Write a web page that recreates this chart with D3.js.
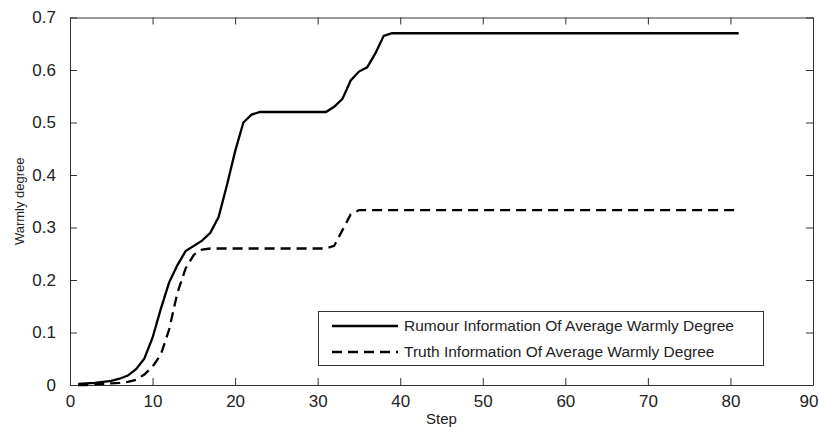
<!DOCTYPE html>
<html>
<head>
<meta charset="utf-8">
<script src="https://cdn.jsdelivr.net/npm/d3@7"></script>
<style>
  body { margin: 0; background: #fff; }
  svg { display: block; font-family: "Liberation Sans", Arial, sans-serif; }
</style>
</head>
<body>
<div id="chart"></div>
<script>
// steps where the curves change (plateaus are flat between listed points)
const rumourSteps = [1, 2, 3, 4, 5, 6, 7, 8, 9, 10, 11, 12, 13, 14, 15, 16, 17, 18, 19, 20, 21, 22, 23, 24, 31, 32, 33, 34, 35, 36, 37, 38, 39, 81]
const rumourValues = [0.002, 0.003, 0.004, 0.006, 0.008, 0.012, 0.018, 0.03, 0.05, 0.09, 0.145, 0.195, 0.228, 0.255, 0.265, 0.275, 0.29, 0.32, 0.38, 0.445, 0.5, 0.515, 0.52, 0.52, 0.52, 0.53, 0.545, 0.58, 0.597, 0.605, 0.632, 0.665, 0.67, 0.67]

const truthSteps = [1, 2, 3, 4, 5, 6, 7, 8, 9, 10, 11, 12, 13, 14, 15, 16, 17, 31, 32, 33, 34, 35, 81]
const truthValues = [0.0, 0.0, 0.001, 0.002, 0.003, 0.004, 0.006, 0.01, 0.02, 0.035, 0.058, 0.105, 0.175, 0.222, 0.248, 0.258, 0.26, 0.26, 0.265, 0.295, 0.325, 0.333, 0.333]

const xTicks = [0, 10, 20, 30, 40, 50, 60, 70, 80, 90]
const yTicks = [0, 0.1, 0.2, 0.3, 0.4, 0.5, 0.6, 0.7]
const seriesNames = ['Rumour Information Of Average Warmly Degree', 'Truth Information Of Average Warmly Degree']

function draw_chart() {
    const width = 819, height = 427
    const margins = {'left': 70, 'right': 6, 'top': 17.5, 'bottom': 42}

    const svg = d3.select('#chart').append('svg')
        .attr('width', width).attr('height', height)

    const x = d3.scaleLinear().domain([0, 90]).range([margins.left, width - margins.right])
    const y = d3.scaleLinear().domain([0, 0.7]).range([height - margins.bottom, margins.top])

    const axisColor = '#333'
    const tickLen = 7

    // bottom / top axes, ticks pointing inward
    svg.append('g').attr('transform', `translate(0,${y(0)})`)
        .call(d3.axisBottom(x).tickValues(xTicks).tickSizeInner(-tickLen).tickSizeOuter(0).tickPadding(10).tickFormat(d3.format('d')))
        .call(g => g.select('.domain').attr('stroke', axisColor))
        .call(g => g.selectAll('.tick line').attr('stroke', axisColor))
        .call(g => g.selectAll('.tick text').attr('font-size', 17).attr('fill', '#222').attr('font-family', '"Liberation Sans", Arial, sans-serif'))
        // last label sits at the window edge; keep it inside
        .call(g => g.selectAll('.tick').filter(d => d === 90).select('text').attr('text-anchor', 'end').attr('x', width - 1 - x(90)))

    svg.append('g').attr('transform', `translate(0,${y(0.7)})`)
        .call(d3.axisTop(x).tickValues(xTicks).tickSizeInner(-tickLen).tickSizeOuter(0).tickFormat(''))
        .call(g => g.select('.domain').attr('stroke', axisColor))
        .call(g => g.selectAll('.tick line').attr('stroke', axisColor))

    // left / right axes
    svg.append('g').attr('transform', `translate(${x(0)},0)`)
        .call(d3.axisLeft(y).tickValues(yTicks).tickSizeInner(-tickLen).tickSizeOuter(0).tickPadding(14).tickFormat(d => d === 0 ? '0' : d3.format('.1f')(d)))
        .call(g => g.select('.domain').attr('stroke', axisColor))
        .call(g => g.selectAll('.tick line').attr('stroke', axisColor))
        .call(g => g.selectAll('.tick text').attr('font-size', 17).attr('fill', '#222').attr('font-family', '"Liberation Sans", Arial, sans-serif'))

    svg.append('g').attr('transform', `translate(${x(90)},0)`)
        .call(d3.axisRight(y).tickValues(yTicks).tickSizeInner(-tickLen).tickSizeOuter(0).tickFormat(''))
        .call(g => g.select('.domain').attr('stroke', axisColor))
        .call(g => g.selectAll('.tick line').attr('stroke', axisColor))

    // axis labels
    svg.append('text').attr('x', (x(0) + x(90)) / 2).attr('y', 424)
        .attr('text-anchor', 'middle').attr('font-size', 15).attr('fill', '#222').text('Step')
    svg.append('text').attr('transform', `translate(24,${(y(0) + y(0.7)) / 2}) rotate(-90)`)
        .attr('text-anchor', 'middle').attr('font-size', 13).attr('fill', '#222').text('Warmly degree')

    const line = d3.line().x(d => x(d[0])).y(d => y(d[1]))

    const rumour = rumourSteps.map((s, i) => [s, rumourValues[i]])
    const truth = truthSteps.map((s, i) => [s, truthValues[i]])

    svg.append('path').datum(truth).attr('d', line)
        .attr('fill', 'none').attr('stroke', 'black').attr('stroke-width', 2.3)
        .attr('stroke-dasharray', '10,6')
    svg.append('path').datum(rumour).attr('d', line)
        .attr('fill', 'none').attr('stroke', 'black').attr('stroke-width', 2.3)

    // legend
    const lg = svg.append('g')
    lg.append('rect').attr('x', 318.5).attr('y', 311.5).attr('width', 445).attr('height', 54)
        .attr('fill', 'white').attr('stroke', axisColor).attr('stroke-width', 1)
    const rows = [{'name': seriesNames[0], 'dash': null, 'y': 326},
        {'name': seriesNames[1], 'dash': '10,6', 'y': 352}]
    rows.forEach(function (r) {
        lg.append('line').attr('x1', 332).attr('x2', 398).attr('y1', r.y).attr('y2', r.y)
            .attr('stroke', 'black').attr('stroke-width', 2.3).attr('stroke-dasharray', r.dash)
        lg.append('text').attr('x', 404).attr('y', r.y + 5).attr('font-size', 15.5).attr('fill', '#222').text(r.name)
    })
}

draw_chart();
</script>
</body>
</html>
